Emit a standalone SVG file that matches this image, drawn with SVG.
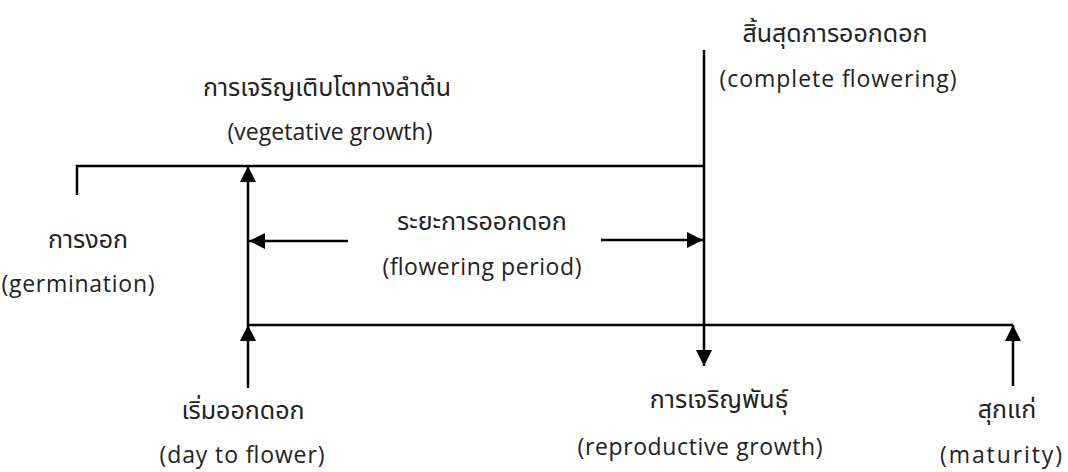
<svg xmlns="http://www.w3.org/2000/svg" width="1068" height="472" viewBox="0 0 1068 472">
<style>
.t{font-family:"Open Sans","Noto Sans Thai","Noto Sans",sans-serif;font-size:23px;fill:#222;text-anchor:middle}
.th{font-size:25px}
.l{stroke:#000;stroke-width:2.5;fill:none}
</style>
<defs>
<marker id="ah" viewBox="0 0 16 16" refX="16" refY="8" markerWidth="16" markerHeight="16" markerUnits="userSpaceOnUse" orient="auto">
<path d="M0,0 L16,8 L0,16 Z" fill="#000"/>
</marker>
</defs>
<g id="connectors">
<polyline class="l" points="77,195 77,166 705,166"/>
<line class="l" x1="248" y1="325" x2="1013" y2="325"/>
<line class="l" x1="248" y1="325" x2="248" y2="166" marker-end="url(#ah)"/>
<line class="l" x1="248" y1="388" x2="248" y2="325" marker-end="url(#ah)"/>
<line class="l" x1="704" y1="50" x2="704" y2="366" marker-end="url(#ah)"/>
<line class="l" x1="1013" y1="386" x2="1013" y2="325" marker-end="url(#ah)"/>
<line class="l" x1="348" y1="241" x2="249" y2="241" marker-end="url(#ah)"/>
<line class="l" x1="601" y1="240" x2="703" y2="240" marker-end="url(#ah)"/>
</g>
<g id="vegetative"><text class="t th" x="327" y="96">การเจริญเติบโตทางลำต้น</text><text class="t" x="330" y="140" textLength="205">(vegetative growth)</text></g>
<g id="complete"><text class="t th" x="835" y="42">สิ้นสุดการออกดอก</text><text class="t" x="838" y="87" textLength="237">(complete flowering)</text></g>
<g id="germination"><text class="t th" x="88" y="248">การงอก</text><text class="t" x="78" y="292" textLength="153">(germination)</text></g>
<g id="period"><text class="t th" x="482" y="230">ระยะการออกดอก</text><text class="t" x="482" y="275" textLength="199">(flowering period)</text></g>
<g id="daytoflower"><text class="t th" x="243" y="419">เริ่มออกดอก</text><text class="t" x="242" y="463" textLength="165">(day to flower)</text></g>
<g id="reproductive"><text class="t th" x="719" y="408">การเจริญพันธุ์</text><text class="t" x="700" y="455" textLength="245">(reproductive growth)</text></g>
<g id="maturity"><text class="t th" x="1007" y="418">สุกแก่</text><text class="t" x="1001" y="463" textLength="122">(maturity)</text></g>
</svg>
